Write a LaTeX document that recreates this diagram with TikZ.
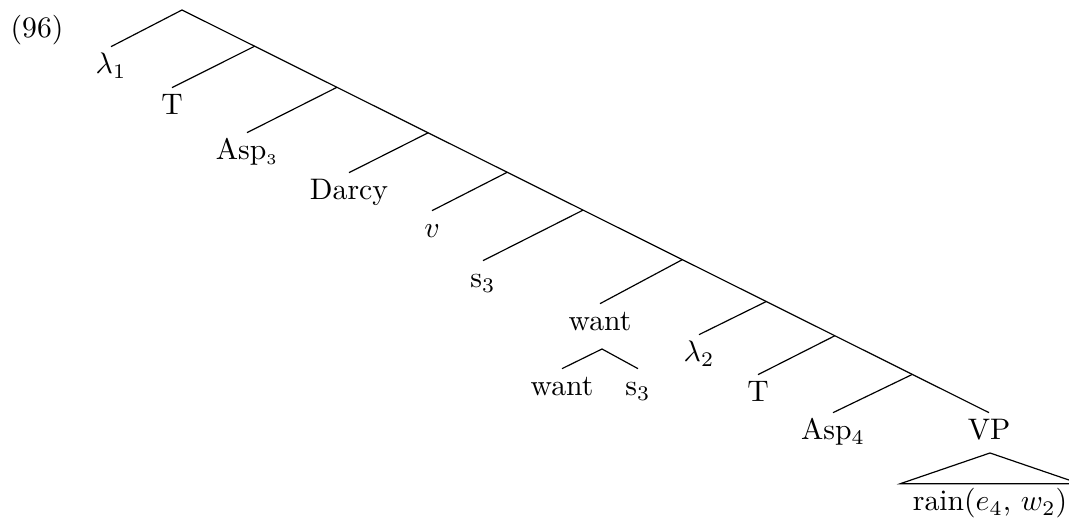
\documentclass[tikz,border=0pt]{standalone}
\usetikzlibrary{positioning}

\begin{document}
\begin{tikzpicture}[x=0.3367pt, y=-0.3367pt,
    lbl/.style={anchor=base, text height=7pt, inner xsep=0pt, inner ysep=2pt}]
  \useasboundingbox (0,0) rectangle (1069,519);
  \node[anchor=base,inner sep=0pt] (ex) at (37,38) {(96)};
  % leaves hanging off the spine
  \node[lbl] (l1)    at (111,74)  {$\lambda_1$};
  \node[lbl] (t1)    at (172,115) {T};
  \node[lbl] (asp3)  at (247,160) {Asp$_{\scriptscriptstyle 3}$};
  \node[lbl] (darcy) at (349,200) {Darcy};
  \node[lbl] (v)     at (432,238) {$v$};
  \node[lbl] (s3)    at (483,288) {s$_3$};
  \node[lbl] (want)  at (600,331) {want};
  \node[lbl] (l2)    at (699,362) {$\lambda_2$};
  \node[lbl] (t2)    at (758,402) {T};
  \node[lbl] (asp4)  at (833,440) {Asp$_4$};
  \node[lbl] (vp)    at (989,440) {VP};
  \coordinate (root) at (182,10);
  \draw (root) -- (vp.north)
    coordinate[pos=0.090] (j1) coordinate[pos=0.192] (j2)
    coordinate[pos=0.305] (j3) coordinate[pos=0.403] (j4)
    coordinate[pos=0.497] (j5) coordinate[pos=0.620] (j6)
    coordinate[pos=0.724] (j7) coordinate[pos=0.809] (j8)
    coordinate[pos=0.905] (j9);
  \draw (root) -- (l1.north);
  \draw (j1) -- (t1.north);
  \draw (j2) -- (asp3.north);
  \draw (j3) -- (darcy.north);
  \draw (j4) -- (v.north);
  \draw (j5) -- (s3.north);
  \draw (j6) -- (want.north);
  \draw (j7) -- (l2.north);
  \draw (j8) -- (t2.north);
  \draw (j9) -- (asp4.north);
  % want -> want s3
  \coordinate (wtop) at (602,349);
  \node[lbl] (w1) at (562,396) {want};
  \node[lbl] (w2) at (638,396) {s$_3$};
  \draw (w1.north) -- (wtop) -- (w2.north);
  % roof under VP
  \coordinate (roof) at (990,453);
  \node[lbl,inner xsep=4pt] (rain) at (990,511) {rain($e_4$, $w_2$)};
  \draw (roof) -- (rain.north west) -- (rain.north east) -- cycle;
\end{tikzpicture}
\end{document}
